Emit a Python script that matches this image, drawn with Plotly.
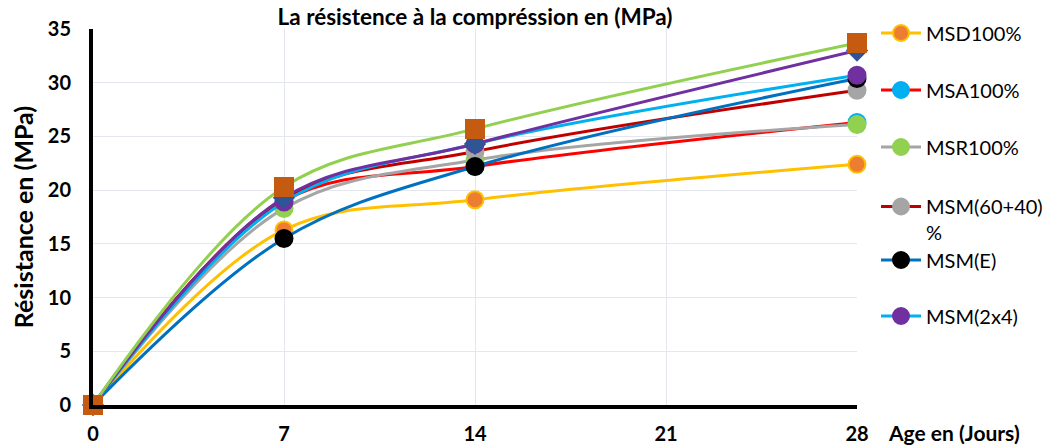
import plotly.graph_objects as go

days = [0, 7, 14, 28]
tick_vals_x = [0, 7, 14, 21, 28]
tick_vals_y = [0, 5, 10, 15, 20, 25, 30, 35]

msd100 = [0, 16.3, 19.1, 22.4]
msa100 = [0, 19.0, 22.2, 26.3]
msr100 = [0, 18.3, 22.8, 26.1]
msm6040 = [0, 19.2, 23.6, 29.3]
msm_e = [0, 15.5, 22.2, 30.4]
msm2x4 = [0, 18.9, 24.3, 30.7]
extra_a = [0, 19.3, 24.3, 33.0]
extra_b = [0, 20.3, 25.7, 33.7]

FONT = "Lato"

series = [
    ("MSD100%", msd100, "#FFC000", "#ED7D31", "#FFC000", "circle", 17, "legend"),
    ("MSA100%", msa100, "#FF0000", "#00B0F0", "#00B0F0", "circle", 17, "legend2"),
    ("MSR100%", msr100, "#A5A5A5", "#92D050", "#92D050", "circle", 17, "legend3"),
    ("MSM(60+40)<br>%", msm6040, "#C00000", "#A5A5A5", "#A5A5A5", "circle", 17, "legend4"),
    ("MSM(E)", msm_e, "#0070C0", "#000000", "#000000", "circle", 17, "legend5"),
    ("MSM(2x4)", msm2x4, "#00B0F0", "#7030A0", "#7030A0", "circle", 17, "legend6"),
    (None, extra_a, "#7030A0", "#2F5597", "#2F5597", "diamond", 15, None),
    (None, extra_b, "#92D050", "#C55A11", "#C55A11", "square", 18, None),
]

fig = go.Figure()
for name, vals, lc, mc, me, sym, sz, leg in series:
    kw = dict(
        x=days, y=vals, mode="lines+markers",
        line=dict(color=lc, width=3, shape="spline", smoothing=1.0),
        marker=dict(color=mc, size=sz, symbol=sym, line=dict(color=me, width=2)),
        cliponaxis=False,
    )
    if name is None:
        kw["showlegend"] = False
    else:
        kw["name"] = name
        kw["legend"] = leg
    fig.add_trace(go.Scatter(**kw))

legend_y = [33, 90, 147, 203, 260, 316]
H = 445
W = 1062
legends = {}
for i, ly in enumerate(legend_y):
    key = "legend" if i == 0 else f"legend{i+1}"
    d = dict(
        xref="container", yref="container",
        x=876 / W, y=1 - ly / H,
        xanchor="left", yanchor="middle",
        font=dict(family=FONT, size=20, color="#000000"),
        bgcolor="rgba(0,0,0,0)",
        itemwidth=40,
    )
    if i == 3:
        d["valign"] = "top"
        d["yanchor"] = "top"
        d["y"] = 1 - (ly - 16) / H
    legends[key] = d

fig.update_layout(
    width=W, height=H,
    margin=dict(l=93, r=205, t=29, b=40, autoexpand=False),
    plot_bgcolor="white", paper_bgcolor="white",
    font=dict(family=FONT, color="#000000"),
    showlegend=True,
    **legends,
    title=dict(text="<b>La résistence à la compréssion en (MPa)</b>",
               xref="paper", yref="container", x=0.5, y=1 - 17 / H,
               xanchor="center", yanchor="middle",
               font=dict(family=FONT, size=22.5, color="#000000")),
    annotations=[
        dict(text="<b>Age en (Jours)</b>",
             xref="paper", yref="paper", x=(886 - 93) / 764, y=(405 - 432) / 376,
             xanchor="left", yanchor="middle", showarrow=False,
             font=dict(family=FONT, size=21, color="#000000")),
    ],
)

fig.update_xaxes(
    range=[0, 28], tickvals=tick_vals_x, ticktext=[f"<b>{v}</b>" for v in tick_vals_x],
    showgrid=True, gridcolor="#E4E7EE", gridwidth=1,
    showline=True, linecolor="#000000", linewidth=4,
    zeroline=False, ticks="", ticklabelstandoff=8, automargin=False,
    tickfont=dict(family=FONT, size=20, color="#000000"),
)
fig.update_yaxes(
    range=[0, 35], tickvals=tick_vals_y, ticktext=[f"<b>{v}</b>" for v in tick_vals_y],
    showgrid=True, gridcolor="#E4E7EE", gridwidth=1,
    showline=True, linecolor="#000000", linewidth=4,
    zeroline=False, ticks="", ticklabelstandoff=14, automargin=False,
    tickfont=dict(family=FONT, size=20, color="#000000"),
    title=dict(text="<b>Résistance en (MPa)</b>", standoff=8,
               font=dict(family=FONT, size=25, color="#000000")),
)

fig.write_html("out.html")
